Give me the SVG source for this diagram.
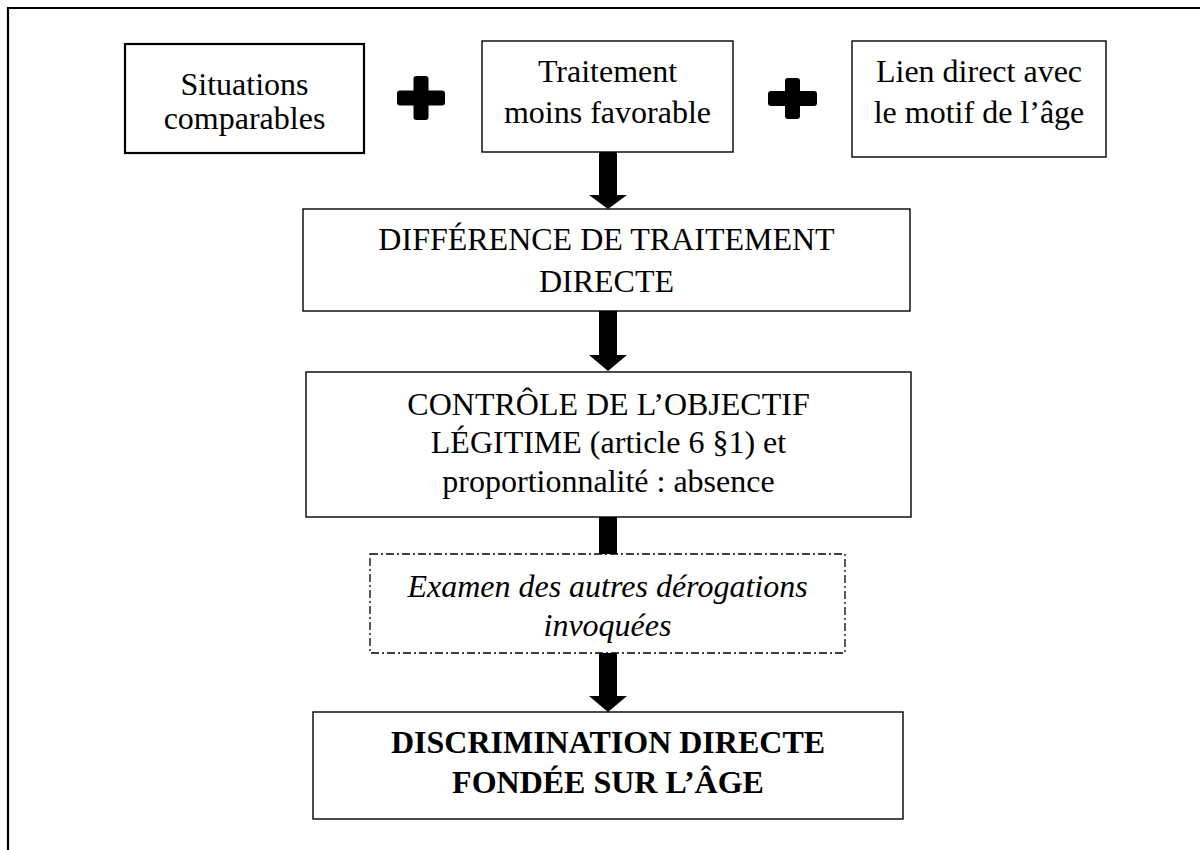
<svg xmlns="http://www.w3.org/2000/svg" width="1200" height="850" viewBox="0 0 1200 850">
<style>
  .box { fill: #fff; stroke: #000; stroke-width: 1.4; }
  .box1 { fill: #fff; stroke: #000; stroke-width: 2.2; }
  .dash { fill: #fff; stroke: #000; stroke-width: 1.3; stroke-dasharray: 8 3 2 3; }
  .t { font-family: "Liberation Serif", "Times New Roman", serif; font-size: 32px; fill: #000; text-anchor: middle; }
  .it { font-style: italic; }
  .bd { font-weight: bold; }
  .plus { fill: #000; }
  .arrow { fill: #000; }
</style>
<rect x="0" y="0" width="1200" height="850" fill="#fff"/>
<g id="frame">
  <path d="M8,850 V8 H1200" fill="none" stroke="#000" stroke-width="2.2"/>
</g>
<g id="n-situations">
  <rect class="box1" x="125" y="44" width="239" height="109"/>
  <text class="t" x="244.5" y="95">Situations</text>
  <text class="t" x="244.5" y="129">comparables</text>
</g>
<g id="plus1" class="plus">
  <rect x="397" y="90.5" width="48" height="15" rx="3"/>
  <rect x="413.5" y="76" width="15" height="44" rx="3"/>
</g>
<g id="n-traitement">
  <rect class="box" x="482" y="41" width="251" height="111"/>
  <text class="t" x="607.5" y="82">Traitement</text>
  <text class="t" x="607.5" y="123">moins favorable</text>
</g>
<g id="plus2" class="plus">
  <rect x="768" y="91" width="49" height="15" rx="3"/>
  <rect x="785" y="78" width="15" height="41" rx="3"/>
</g>
<g id="n-lien">
  <rect class="box" x="852" y="41" width="254" height="116"/>
  <text class="t" x="979" y="82">Lien direct avec</text>
  <text class="t" x="979" y="123">le motif de l’âge</text>
</g>
<g id="n-difference">
  <rect class="box" x="303" y="209" width="607" height="102"/>
  <text class="t" x="606.5" y="250">DIFFÉRENCE DE TRAITEMENT</text>
  <text class="t" x="606.5" y="292">DIRECTE</text>
</g>
<g id="n-controle">
  <rect class="box" x="306" y="372" width="605" height="145"/>
  <text class="t" x="608.5" y="415">CONTRÔLE DE L’OBJECTIF</text>
  <text class="t" x="608.5" y="453">LÉGITIME (article 6 §1) et</text>
  <text class="t" x="608.5" y="492">proportionnalité : absence</text>
</g>
<g id="n-examen">
  <rect class="dash" x="370" y="554" width="475" height="99"/>
  <text class="t it" x="607.5" y="597">Examen des autres dérogations</text>
  <text class="t it" x="607.5" y="636">invoquées</text>
</g>
<g id="n-discrimination">
  <rect class="box" x="313" y="712" width="590" height="107"/>
  <text class="t bd" x="608" y="753">DISCRIMINATION DIRECTE</text>
  <text class="t bd" x="608" y="793">FONDÉE SUR L’ÂGE</text>
</g>
<g id="connectors">
  <path class="arrow" d="M599,152 H617 V195 H627 L608,209 L589,195 H599 Z"/>
  <path class="arrow" d="M599,311 H617 V355 H627 L608,371 L589,355 H599 Z"/>
  <rect class="arrow" x="599" y="517" width="18" height="37"/>
  <path class="arrow" d="M599,653 H617 V696 H627 L608,712 L589,696 H599 Z"/>
</g>
</svg>
